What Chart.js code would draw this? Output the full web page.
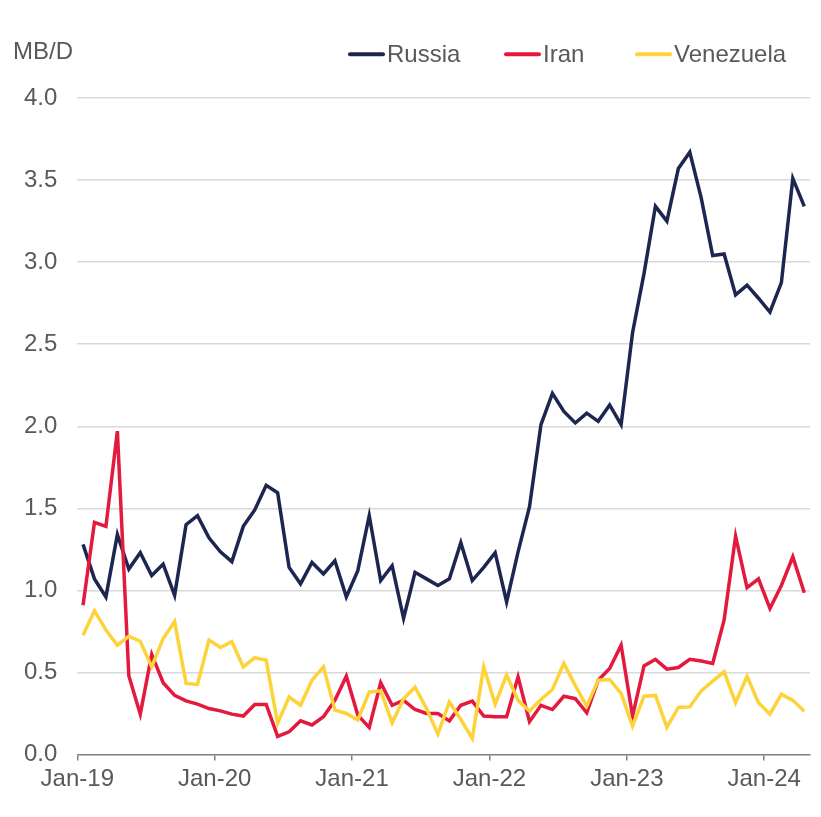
<!DOCTYPE html>
<html>
<head>
<meta charset="utf-8">
<script src="https://cdn.jsdelivr.net/npm/chart.js@4"></script>
<style>
  html, body { margin: 0; padding: 0; background: #ffffff; }
  #wrap { width: 821px; height: 817px; position: relative; }
</style>
</head>
<body>
<div id="wrap"><canvas id="c"></canvas></div>
<script>
// Monthly data, Jan-2019 .. Apr-2024 (MB/D)
const seriesNames = ['Russia', 'Iran', 'Venezuela'];
const russia = [
  1.28, 1.07, 0.96, 1.34, 1.13, 1.23, 1.09, 1.16, 0.97, 1.40,
  1.455, 1.32, 1.235, 1.175, 1.39, 1.49, 1.64, 1.595, 1.14, 1.04,
  1.17, 1.10, 1.18, 0.96, 1.12, 1.455, 1.06, 1.15, 0.83, 1.11,
  1.07, 1.03, 1.07, 1.29, 1.06, 1.14, 1.23, 0.93, 1.235, 1.51,
  2.01, 2.20, 2.09, 2.02, 2.08, 2.03, 2.13, 2.01, 2.57, 2.93,
  3.34, 3.25, 3.57, 3.67, 3.39, 3.04, 3.05, 2.80, 2.86, 2.78,
  2.695, 2.875, 3.51, 3.34
];
const iran = [
  0.91, 1.415, 1.39, 1.97, 0.48, 0.246, 0.61, 0.437, 0.36, 0.327,
  0.307, 0.28, 0.266, 0.246, 0.234, 0.305, 0.305, 0.11, 0.138, 0.205,
  0.18, 0.23, 0.33, 0.477, 0.24, 0.165, 0.437, 0.30, 0.33, 0.274,
  0.25, 0.25, 0.205, 0.30, 0.325, 0.234, 0.23, 0.23, 0.473, 0.20,
  0.30, 0.274, 0.355, 0.34, 0.254, 0.453, 0.524, 0.666, 0.234, 0.54,
  0.58, 0.52, 0.53, 0.58, 0.57, 0.555, 0.82, 1.33, 1.016, 1.07,
  0.89, 1.03, 1.205, 0.985
];
const venezuela = [
  0.727, 0.876, 0.758, 0.666, 0.72, 0.69, 0.534, 0.707, 0.81, 0.433,
  0.427, 0.697, 0.652, 0.687, 0.534, 0.59, 0.575, 0.19, 0.35, 0.30,
  0.453, 0.534, 0.27, 0.25, 0.21, 0.38, 0.388, 0.193, 0.34, 0.41,
  0.28, 0.124, 0.32, 0.213, 0.098, 0.534, 0.307, 0.484, 0.33, 0.265,
  0.335, 0.396, 0.555, 0.42, 0.295, 0.453, 0.457, 0.372, 0.173, 0.355,
  0.36, 0.165, 0.287, 0.29, 0.388, 0.447, 0.504, 0.315, 0.477, 0.315,
  0.246, 0.368, 0.33, 0.264
];
const xTickLabels = ['Jan-19', 'Jan-20', 'Jan-21', 'Jan-22', 'Jan-23', 'Jan-24'];
const yTicks = [0, 0.5, 1, 1.5, 2, 2.5, 3, 3.5, 4];
const unitLabel = 'MB/D';

const colors = ['#1d2650', '#e3193d', '#fdd33a'];
const FONT = '"Liberation Sans", Arial, Helvetica, sans-serif';
const TXT = '#595959';

// each value sits in the middle of its month
function toPoints(arr) { return arr.map((v, i) => ({ x: i + 0.5, y: v })); }
const allSeries = [russia, iran, venezuela];

const overlay = {
  id: 'overlay',
  afterDraw(chart) {
    const ctx = chart.ctx;
    ctx.save();
    ctx.font = '24px ' + FONT;
    ctx.fillStyle = TXT;
    ctx.textBaseline = 'alphabetic';
    ctx.textAlign = 'left';
    ctx.fillText(unitLabel, 13, 58.5);
    const starts = [348, 504, 635];
    seriesNames.forEach((name, i) => {
      const x = starts[i];
      ctx.strokeStyle = colors[i];
      ctx.lineWidth = 4;
      ctx.lineCap = 'round';
      ctx.beginPath();
      ctx.moveTo(x + 2, 54.3);
      ctx.lineTo(x + 35, 54.3);
      ctx.stroke();
      ctx.fillStyle = TXT;
      ctx.fillText(name, x + 39, 61.7);
    });
    ctx.restore();
  }
};

new Chart(document.getElementById('c'), {
  type: 'line',
  data: {
    datasets: allSeries.map((arr, i) => ({
      label: seriesNames[i],
      data: toPoints(arr),
      borderColor: colors[i],
      backgroundColor: colors[i],
      borderWidth: 3.5,
      pointRadius: 0,
      tension: 0,
      fill: false,
      order: 2 - i
    }))
  },
  options: {
    responsive: true,
    maintainAspectRatio: false,
    animation: false,
    layout: { padding: { top: 98, right: 11, left: 0, bottom: 0 } },
    plugins: { legend: { display: false }, tooltip: { enabled: false }, title: { display: false } },
    scales: {
      x: {
        type: 'linear',
        min: 0,
        max: russia.length,
        afterBuildTicks(scale) { scale.ticks = xTickLabels.map((l, i) => ({ value: i * 12 })); },
        afterFit(scale) { scale.height = 62.5; },
        ticks: {
          autoSkip: false,
          maxRotation: 0,
          padding: 4,
          color: TXT,
          font: { family: FONT, size: 24 },
          callback: (v) => xTickLabels[Math.round(v / 12)]
        },
        grid: { display: true, drawOnChartArea: false, drawTicks: true, tickLength: 6, color: '#7f7f7f', lineWidth: 1.5 },
        border: { display: true, color: '#7f7f7f', width: 1.5 }
      },
      y: {
        min: 0,
        max: 4,
        afterBuildTicks(scale) { scale.ticks = yTicks.map(v => ({ value: v })); },
        afterFit(scale) { scale.width = 77.3; },
        ticks: {
          padding: 20,
          color: TXT,
          font: { family: FONT, size: 24 },
          callback: (v) => Number(v).toFixed(1)
        },
        grid: {
          drawTicks: false,
          color: (c) => (c.tick && c.tick.value === 0) ? 'rgba(0,0,0,0)' : '#d9d9d9',
          lineWidth: 1.5
        },
        border: { display: false }
      }
    }
  },
  plugins: [overlay]
});
</script>
</body>
</html>
